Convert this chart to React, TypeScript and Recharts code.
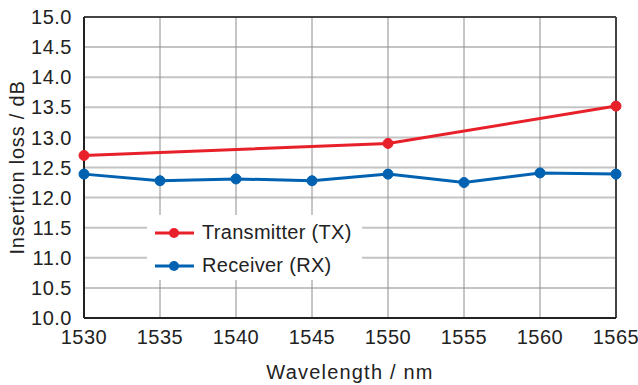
import React from "react";
import {
  LineChart,
  Line,
  XAxis,
  YAxis,
  CartesianGrid,
  ReferenceLine,
} from "recharts";

const wavelengths = [1530, 1535, 1540, 1545, 1550, 1555, 1560, 1565];
const txLoss: (number | null)[] = [12.7, null, null, null, 12.9, null, null, 13.52];
const rxLoss = [12.39, 12.28, 12.31, 12.28, 12.39, 12.25, 12.41, 12.39];
const xTicks = [1530, 1535, 1540, 1545, 1550, 1555, 1560, 1565];
const yTicks = [10, 10.5, 11, 11.5, 12, 12.5, 13, 13.5, 14, 14.5, 15];

const RED = "#e8202a";
const BLUE = "#0062b1";
const FONT = "'Liberation Sans', Arial, sans-serif";

const data = wavelengths.map((w, i) => ({ w, tx: txLoss[i], rx: rxLoss[i] }));

const legendItems = [
  { label: "Transmitter (TX)", color: RED },
  { label: "Receiver (RX)", color: BLUE },
];

function LegendBox() {
  return (
    <div
      style={{
        position: "absolute",
        left: 147,
        top: 215,
        background: "#fff",
        width: 215,
        height: 65,
        boxSizing: "border-box",
        paddingTop: 1,
        fontFamily: FONT,
        fontSize: 20,
        letterSpacing: 0.3,
        color: "#222",
      }}
    >
      {legendItems.map((it) => (
        <div key={it.label} style={{ display: "flex", alignItems: "center", height: 33 }}>
          <svg width={55} height={14} style={{ display: "block" }}>
            <line x1={8} y1={7} x2={47} y2={7} stroke={it.color} strokeWidth={3} />
            <circle cx={27} cy={7} r={5} fill={it.color} />
          </svg>
          <span>{it.label}</span>
        </div>
      ))}
    </div>
  );
}

export default function App() {
  const tick = { fontSize: 20, fill: "#222", fontFamily: FONT, letterSpacing: 0.5 };
  const title = { fontSize: 20, fill: "#222", fontFamily: FONT, letterSpacing: 1.2 };
  return (
    <div style={{ position: "absolute", left: 0, top: 0, background: "#fff" }}>
      <LineChart
        width={638}
        height={385}
        data={data}
        margin={{ top: 17, right: 22, left: 0, bottom: 0 }}
      >
        <CartesianGrid vertical={false} stroke="#c4c4c4" strokeWidth={2} />
        <CartesianGrid horizontal={false} stroke="#8c8c8c" strokeWidth={1} />
        <XAxis
          dataKey="w"
          type="number"
          domain={[1530, 1565]}
          ticks={xTicks}
          interval={0}
          tickLine={false}
          axisLine={{ stroke: "#222", strokeWidth: 2 }}
          tick={tick}
          tickMargin={6}
          height={67}
          label={{
            value: "Wavelength / nm",
            position: "insideBottom",
            offset: 6,
            style: title,
          }}
        />
        <YAxis
          type="number"
          domain={[10, 15]}
          ticks={yTicks}
          interval={0}
          tickFormatter={(v) => Number(v).toFixed(1)}
          tickLine={false}
          axisLine={{ stroke: "#222", strokeWidth: 2 }}
          tick={tick}
          tickMargin={6}
          width={84}
          label={{
            value: "Insertion loss / dB",
            angle: -90,
            position: "insideLeft",
            offset: 17,
            style: { ...title, letterSpacing: 0.8, textAnchor: "middle" },
          }}
        />
        <ReferenceLine y={15} stroke="#444" strokeWidth={2} />
        <ReferenceLine x={1565} stroke="#444" strokeWidth={2} />
        <Line
          dataKey="tx"
          stroke={RED}
          strokeWidth={3}
          connectNulls
          dot={{ r: 5, fill: RED, stroke: RED, strokeWidth: 1 }}
          isAnimationActive={false}
        />
        <Line
          dataKey="rx"
          stroke={BLUE}
          strokeWidth={3}
          dot={{ r: 5, fill: BLUE, stroke: BLUE, strokeWidth: 1 }}
          isAnimationActive={false}
        />
      </LineChart>
      <LegendBox />
    </div>
  );
}
